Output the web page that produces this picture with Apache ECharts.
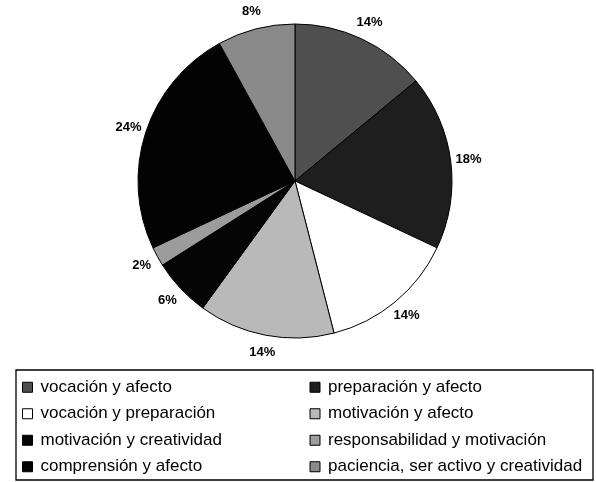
<!DOCTYPE html>
<html><head><meta charset="utf-8">
<script src="https://cdn.jsdelivr.net/npm/echarts@6/dist/echarts.min.js"></script>
<style>html,body{margin:0;padding:0;background:#fff}#c{width:596px;height:482px}</style>
</head><body><div id="c"></div>
<script>
var categories = ['vocación y afecto','preparación y afecto','vocación y preparación','motivación y afecto','motivación y creatividad','responsabilidad y motivación','comprensión y afecto','paciencia, ser activo y creatividad'];
var values = [14, 18, 14, 14, 6, 2, 24, 8];
var colors = ['#4f4f4f','#1e1e1e','#ffffff','#b9b9b9','#050505','#9c9c9c','#030303','#8a8a8a'];

var chart = echarts.init(document.getElementById('c'), null, {renderer:'canvas'});
var data = categories.map(function(n,i){return {name:n, value:values[i], itemStyle:{color:colors[i]}};});
var labelData = categories.map(function(n,i){return {name:n, value:values[i]};});
chart.setOption({
  animation:false,
  backgroundColor:'#fff',
  color: colors,
  graphic:[{type:'rect', shape:{x:16,y:370,width:577,height:110}, style:{fill:'none',stroke:'#000',lineWidth:1.3}}],
  legend:{
    orient:'horizontal', left:22, top:374, width:580,
    itemWidth:10, itemHeight:10, itemGap:0, padding:0,
    icon:'rect',
    itemStyle:{borderColor:'#000',borderWidth:1},
    textStyle:{fontFamily:'Liberation Sans, Arial, sans-serif', fontSize:17, color:'#000', width:269, height:26.5, lineHeight:26.5, padding:[0,0,0,3]},
    data: categories
  },
  series:[{
    type:'pie', center:[295,181], radius:157, startAngle:90, clockwise:true,
    data:data,
    itemStyle:{borderColor:'#000',borderWidth:1},
    label:{show:false},
    labelLine:{show:false},
    emphasis:{disabled:true}
  },{
    type:'pie', center:[295,181], radius:[0,344], startAngle:90, clockwise:true,
    data:labelData, silent:true, z:0,
    itemStyle:{color:'rgba(0,0,0,0)', borderWidth:0},
    label:{show:true, position:'inside', formatter:'{d}%', fontFamily:'Liberation Sans, Arial, sans-serif', fontWeight:'bold', fontSize:13, color:'#000'},
    labelLine:{show:false},
    emphasis:{disabled:true}
  }]
});
</script></body></html>
